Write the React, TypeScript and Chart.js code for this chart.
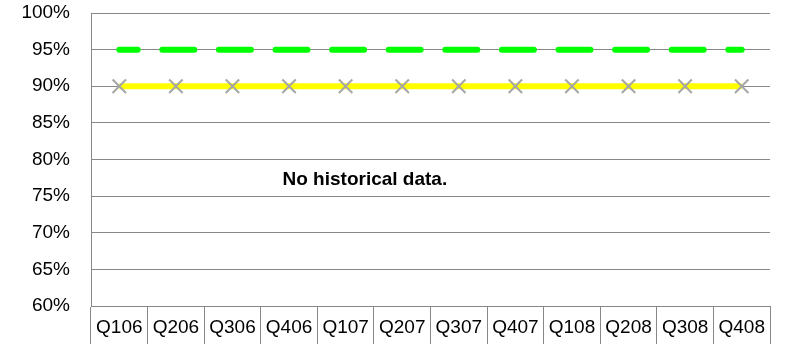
import React, { useEffect, useRef } from "react";
import { Chart, registerables } from "chart.js";

Chart.register(...registerables);

const categories = ["Q106", "Q206", "Q306", "Q406", "Q107", "Q207", "Q307", "Q407", "Q108", "Q208", "Q308", "Q408"];
const targetValues = [95, 95, 95, 95, 95, 95, 95, 95, 95, 95, 95, 95];
const thresholdValues = [90, 90, 90, 90, 90, 90, 90, 90, 90, 90, 90, 90];
const yMin = 60;
const yMax = 100;
const yStep = 5;
const noteText = "No historical data.";
const noteIndex = 4.34;
const noteValue = 77.2;

const FONT = "'Liberation Sans', Arial, sans-serif";
const GRID = "#888888";

const notePlugin = {
  id: "note",
  afterDraw(chart: any) {
    const { ctx, scales } = chart;
    const x = scales.x.getPixelForValue(noteIndex);
    const y = scales.y.getPixelForValue(noteValue);
    ctx.save();
    ctx.font = `bold 19px ${FONT}`;
    ctx.fillStyle = "#000";
    ctx.textAlign = "center";
    ctx.textBaseline = "middle";
    ctx.fillText(noteText, x, y);
    ctx.restore();
  },
};

export default function App() {
  const ref = useRef<HTMLCanvasElement | null>(null);
  useEffect(() => {
    if (!ref.current) return;
    const chart = new Chart(ref.current, {
      type: "line",
      data: {
        labels: categories,
        datasets: [
          {
            label: "Threshold",
            data: thresholdValues,
            borderColor: "#FFFF00",
            borderWidth: 6,
            pointStyle: "crossRot",
            pointRadius: 9.5,
            pointBorderColor: "#A6A6A6",
            pointBorderWidth: 2,
            pointBackgroundColor: "#A6A6A6",
            fill: false,
            order: 2,
          },
          {
            label: "Target",
            data: targetValues,
            borderColor: "#00FF00",
            borderWidth: 6,
            borderDash: [32, 24.6],
            borderDashOffset: 13.6,
            borderCapStyle: "round",
            pointRadius: 0,
            fill: false,
            order: 1,
          },
        ],
      },
      options: {
        animation: false,
        responsive: false,
        layout: { padding: { top: 0, right: 17, left: 0, bottom: 0 } },
        plugins: {
          legend: { display: false },
          title: { display: false },
          tooltip: { enabled: false },
        },
        scales: {
          x: {
            offset: true,
            grid: {
              offset: true,
              drawOnChartArea: false,
              drawTicks: true,
              tickLength: 38,
              color: GRID,
              lineWidth: 1,
            },
            border: { display: true, color: GRID },
            ticks: {
              padding: -28,
              autoSkip: false,
              maxRotation: 0,
              color: "#000",
              font: { family: FONT, size: 19 },
            },
            afterFit: (s: any) => {
              s.height = 38;
            },
          },
          y: {
            min: yMin,
            max: yMax,
            grid: { color: GRID, lineWidth: 1, drawTicks: false },
            border: { display: true, color: GRID },
            ticks: {
              stepSize: yStep,
              padding: 21,
              color: "#000",
              font: { family: FONT, size: 19 },
              callback: (v: any) => `${v}%`,
            },
            afterFit: (s: any) => {
              s.width = 91;
              s.paddingTop = 13;
              s.paddingBottom = 0;
            },
          },
        },
      },
      plugins: [notePlugin],
    });
    return () => chart.destroy();
  }, []);
  return (
    <div style={{ position: "absolute", left: 0, top: 0, width: 787, height: 344, background: "#fff" }}>
      <canvas ref={ref} width={787} height={344} />
    </div>
  );
}
